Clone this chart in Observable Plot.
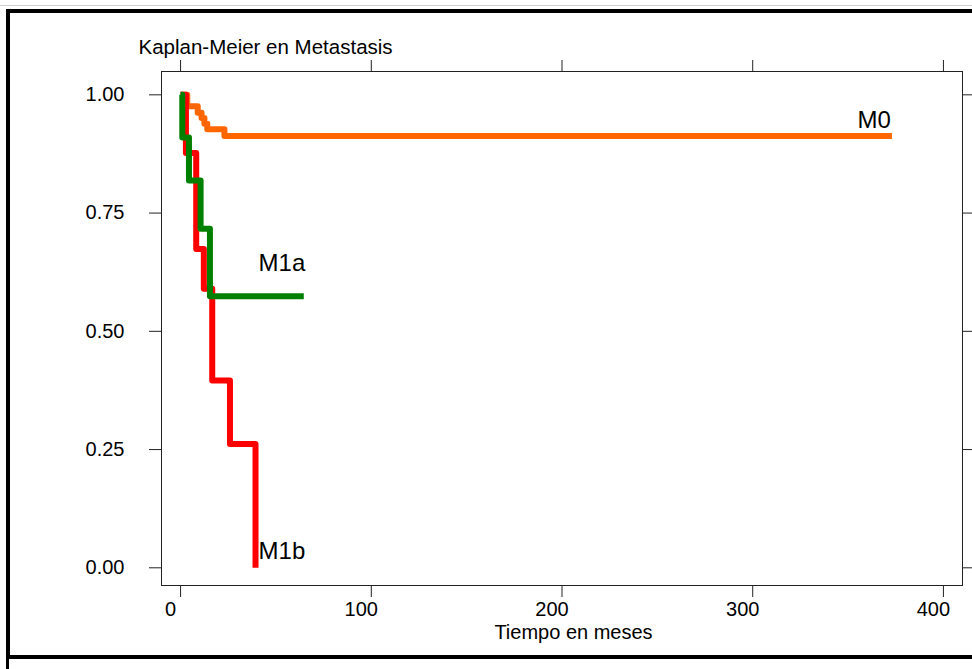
<!DOCTYPE html>
<html><head><meta charset="utf-8">
<script src="https://cdn.jsdelivr.net/npm/d3@7"></script>
<script src="https://cdn.jsdelivr.net/npm/@observablehq/plot@0.6"></script>
<style>
html,body{margin:0;padding:0;background:#fff;}
#wrap{position:relative;width:972px;height:669px;overflow:hidden;background:#fff;}
#wrap svg{position:absolute;left:0;top:0;}
.bd{position:absolute;pointer-events:none;}
</style></head><body>
<div id="wrap">
  <div class="bd" style="left:0;top:5px;width:972px;height:1px;background:#d0d0d0;"></div>
  <div class="bd" style="left:6px;top:9px;width:1000px;height:642px;border:4px solid #000;"></div>
  <div class="bd" style="left:6px;top:659px;width:3px;height:12px;background:#000;"></div>
</div>
<script>
const titleText = "Kaplan-Meier en Metastasis";
const xLabel = "Tiempo en meses";
const xTicks = [0, 100, 200, 300, 400];
const yTicks = [0, 0.25, 0.5, 0.75, 1];

const m0Time = [0, 3.5, 9, 11, 12.5, 14, 23, 373];
const m0Surv = [1, 0.976, 0.962, 0.951, 0.939, 0.927, 0.913, 0.913];
const m1aTime = [0, 0.9, 4.4, 10.5, 15.4, 64.6];
const m1aSurv = [1, 0.910, 0.819, 0.717, 0.574, 0.574];
const m1bTime = [0, 2.8, 8.2, 12.2, 16.6, 25.9, 39.3];
const m1bSurv = [1, 0.877, 0.674, 0.590, 0.396, 0.262, 0];

const groupNames = ["M0", "M1a", "M1b"];
const groupColors = ["#FF6600", "#008000", "#FF0000"];
const labelTime = [355, 40.9, 40.9];
const labelSurv = [0.929, 0.6285, 0.019];

const toRows = (g, T, S) => T.map((t, i) => ({group: g, t, s: S[i]}));
const m0 = toRows("M0", m0Time, m0Surv);
const m1a = toRows("M1a", m1aTime, m1aSurv);
const m1b = toRows("M1b", m1bTime, m1bSurv);

const font = "'Liberation Sans', Arial, Helvetica, sans-serif";
const lineOpts = (c) => ({x: "t", y: "s", curve: "step-after", stroke: c, strokeWidth: 6, strokeLinecap: "butt", strokeLinejoin: "round"});

const chart = Plot.plot({
  width: 972,
  height: 669,
  marginLeft: 161,
  marginRight: 10,
  marginTop: 71,
  marginBottom: 84,
  style: {fontFamily: font, background: "transparent", color: "#000"},
  x: {domain: [-10, 410], range: [161, 962]},
  y: {domain: [-0.0374, 1.0493], range: [585, 71]},
  marks: [
    Plot.line(m0, lineOpts(groupColors[0])),
    Plot.line(m1b, lineOpts(groupColors[2])),
    Plot.line(m1a, lineOpts(groupColors[1])),
    Plot.frame({stroke: "#222"}),
    Plot.axisX({ticks: xTicks, tickSize: 12, stroke: "#222", fill: "none", label: null}),
    Plot.axisX({ticks: xTicks, tickSize: 12, tickPadding: 4, stroke: "none", fill: "#000", fontSize: 20, dx: -10, label: null}),
    Plot.axisX({anchor: "top", ticks: xTicks, tickSize: 12, stroke: "#222", fill: "none", label: null}),
    Plot.axisY({ticks: yTicks, tickSize: 12, tickPadding: 25, stroke: "#222", fill: "#000", fontSize: 20, tickFormat: d => d.toFixed(2), label: null}),
    Plot.axisY({anchor: "right", ticks: yTicks, tickSize: 12, stroke: "#222", fill: "none", label: null}),
    Plot.text(groupNames, {x: (d, i) => labelTime[i], y: (d, i) => labelSurv[i], text: d => d, textAnchor: "start", lineAnchor: "bottom", fontSize: 24, fill: "#000"}),
    Plot.text([titleText], {frameAnchor: "top-left", text: d => d, dx: -23, dy: -18, textAnchor: "start", lineAnchor: "bottom", fontSize: 20.5, fill: "#000"}),
    Plot.text([xLabel], {frameAnchor: "bottom", text: d => d, dx: 11.5, dy: 53, lineAnchor: "bottom", fontSize: 20, fill: "#000"})
  ]
});
document.getElementById("wrap").prepend(chart);
</script>
</body></html>
